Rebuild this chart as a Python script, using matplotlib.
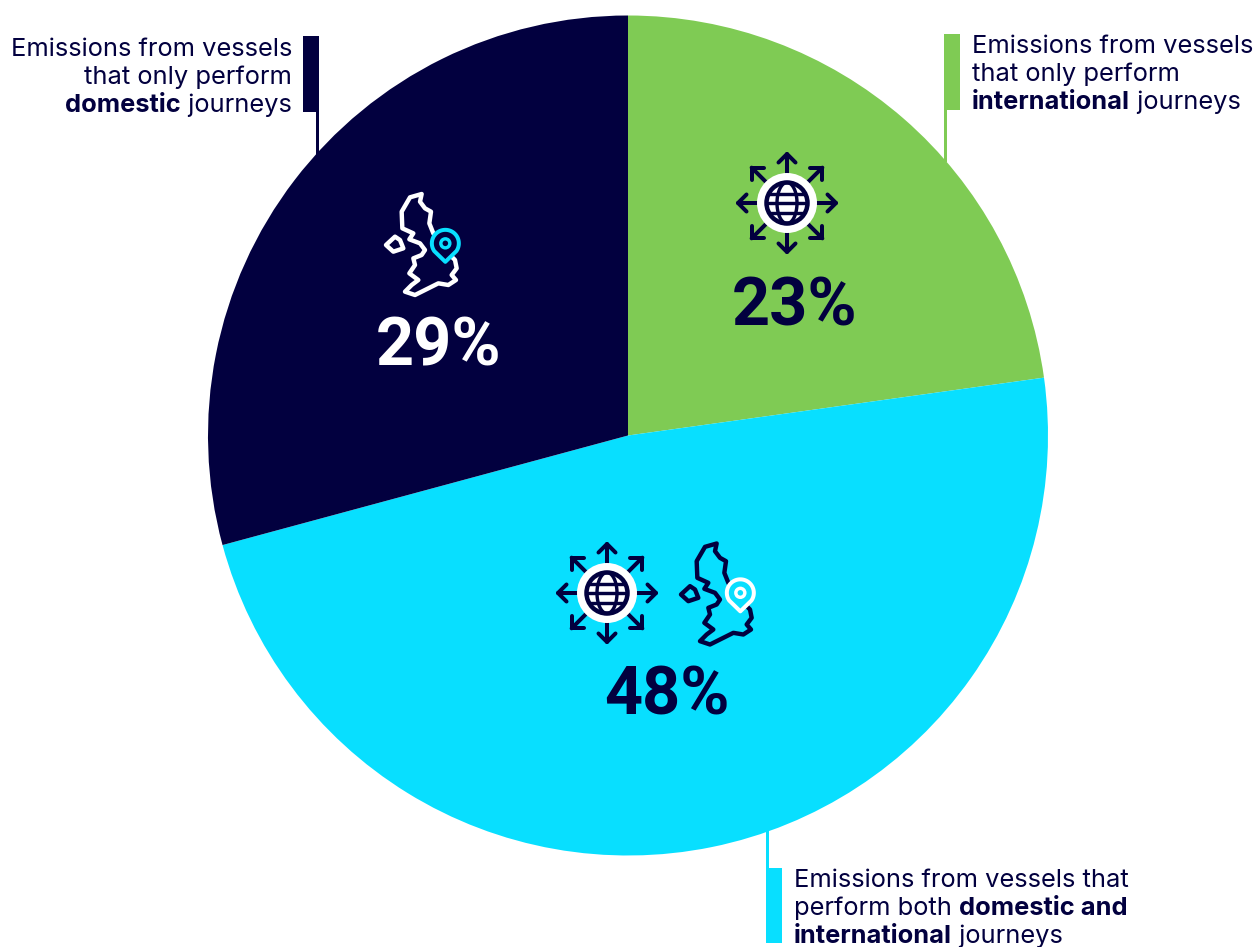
import matplotlib
matplotlib.use("Agg")
import matplotlib.pyplot as plt
import numpy as np
from matplotlib.patches import Circle, Polygon, Rectangle

plt.rcParams['font.family'] = ['Inter', 'DejaVu Sans']

# --- data ---
categories = ["international only", "both", "domestic only"]
shares = [22.8, 48.0, 29.2]
pct_labels = ["23%", "48%", "29%"]

NAVY = "#02003F"
GREEN = "#7FCB54"
CYAN = "#08DFFF"
slice_colors = [GREEN, CYAN, NAVY]
pct_colors = [NAVY, NAVY, "white"]
pct_xy = [(795, 325), (667, 714), (439, 365)]

W, H = 1255, 947
fig = plt.figure(figsize=(W / 100, H / 100), dpi=100)

# pie axes: 840 px circle centred at (628, 435.5)
cx, cy, R = 628, 435.5, 420
axp = fig.add_axes([(cx - R) / W, 1 - (cy + R) / H, 2 * R / W, 2 * R / H])
axp.pie(shares, colors=slice_colors, startangle=90, counterclock=False, radius=1.0,
        wedgeprops=dict(linewidth=0))
axp.set_xlim(-1, 1)
axp.set_ylim(-1, 1)
axp.axis("off")

# pixel overlay
ax = fig.add_axes([0, 0, 1, 1], zorder=5)
ax.set_xlim(0, W)
ax.set_ylim(H, 0)
ax.axis("off")
ax.patch.set_alpha(0)

PX = 72 / 100
LW4 = 4 * PX


def globe(x0, y0, fg, ring_bg="white"):
    kw = dict(color=fg, lw=LW4, solid_capstyle="round", solid_joinstyle="round", zorder=6)
    c = np.array([x0, y0])
    for i in range(8):
        a = i * np.pi / 4
        d = np.array([np.cos(a), np.sin(a)])
        n = np.array([-d[1], d[0]])
        L = 49 if i % 2 == 0 else 50
        tip = c + d * L
        ax.plot(*zip(c + d * 28, tip), **kw)
        h = 8.5
        p1 = tip - d * h + n * h
        p2 = tip - d * h - n * h
        ax.plot(*zip(p1, tip, p2), **kw)
    ax.add_patch(Circle((x0, y0), 30, fc=ring_bg, ec="none", zorder=7))
    r = 20.5
    kw2 = dict(color=fg, lw=3.4 * PX, zorder=8, solid_capstyle="butt")
    ax.plot([x0 - r, x0 + r], [y0, y0], **kw2)
    for s in (-1, 1):
        yy = y0 + s * 9.5
        xx = np.sqrt(r ** 2 - 9.5 ** 2)
        ax.plot([x0 - xx, x0 + xx], [yy, yy], **kw2)
        t = np.linspace(-np.pi / 2, np.pi / 2, 30)
        ax.plot(x0 + s * 10 * np.cos(t), y0 + r * np.sin(t), **kw2)
    ax.add_patch(Circle((x0, y0), r, fc="none", ec=fg, lw=4.5 * PX, zorder=10))


UK_MAIN = [(155, 42), (150, 65), (165, 85), (183, 95), (178, 130), (190, 160), (215, 200), (255, 240),
           (260, 265), (245, 285), (258, 300), (235, 315), (205, 310), (135, 345), (105, 335),
           (125, 315), (145, 300), (118, 280), (135, 255), (130, 235), (155, 225), (165, 210),
           (150, 190), (118, 178), (130, 160), (97, 145), (95, 95), (120, 52)]
UK_IRE = [(75, 170), (90, 180), (100, 205), (70, 215), (48, 195)]


def ukmap(x0, y0, line, pin_line, pin_fill):
    def tr(pts):
        return [(x0 + a / 3, y0 + b / 3) for a, b in pts]
    for pts in (UK_MAIN, UK_IRE):
        ax.add_patch(Polygon(tr(pts), closed=True, fc="none", ec=line, lw=4.4 * PX, joinstyle="round", zorder=6))
    px, py, r = x0 + 226 / 3, y0 + 190 / 3, 13.5
    tipy = py + 18.5
    t = np.linspace(np.deg2rad(145), np.deg2rad(395), 50)
    xs = list(px + r * np.cos(t))
    ys = list(py + r * np.sin(t))
    xs.append(px)
    ys.append(tipy)
    ax.add_patch(Polygon(list(zip(xs, ys)), closed=True, fc=pin_fill, ec=pin_line, lw=LW4, joinstyle="round", zorder=7))
    ax.add_patch(Circle((px, py), 4.5, fc=pin_fill, ec=pin_line, lw=3.4 * PX, zorder=8))


globe(787, 203, NAVY)
globe(607, 593, NAVY)
ukmap(370, 180, "white", CYAN, NAVY)
ukmap(665, 529.5, NAVY, "white", CYAN)

# percentages
for lab, col, (x, y) in zip(pct_labels, pct_colors, pct_xy):
    ax.text(x, y, lab, color=col, fontsize=48, fontweight="bold", family="Roboto",
            ha="center", va="baseline", zorder=11)

# leader bars
for (x, y, w, h), c in [((303, 36, 16, 76), NAVY), ((316, 112, 3, 45), NAVY),
                        ((944, 34, 16, 76), GREEN), ((944, 110, 3, 52), GREEN),
                        ((766, 868, 16, 75), CYAN), ((766, 828, 3, 40), CYAN)]:
    ax.add_patch(Rectangle((x, y), w, h, fc=c, ec="none", zorder=4))

# rich text
FS = 18.35
fig.canvas.draw()
rend = fig.canvas.get_renderer()


def rich(x, y, parts, align="left"):
    arts = []
    for s, bold in parts:
        arts.append(ax.text(0, y, s, fontsize=FS, color=NAVY, fontweight="bold" if bold else "normal",
                            ha="left", va="baseline", zorder=11))
    widths = []
    for a in arts:
        w, _, _ = rend.get_text_width_height_descent(a.get_text(), a.get_fontproperties(), False)
        widths.append(w)
    total = sum(widths)
    cur = x if align == "left" else x - total
    for a, w in zip(arts, widths):
        a.set_x(cur)
        cur += w


left_lines = [[("Emissions from vessels", False)], [("that only perform", False)],
              [("domestic", True), (" journeys", False)]]
right_lines = [[("Emissions from vessels", False)], [("that only perform", False)],
               [("international", True), (" journeys", False)]]
bottom_lines = [[("Emissions from vessels that", False)], [("perform both ", False), ("domestic and", True)],
                [("international", True), (" journeys", False)]]

for ln, y in zip(left_lines, (56, 84, 112)):
    rich(292, y, ln, "right")
for ln, y in zip(right_lines, (53, 81, 109)):
    rich(972, y, ln)
for ln, y in zip(bottom_lines, (887, 915, 943)):
    rich(794, y, ln)

fig.savefig("out.png", dpi=100)
